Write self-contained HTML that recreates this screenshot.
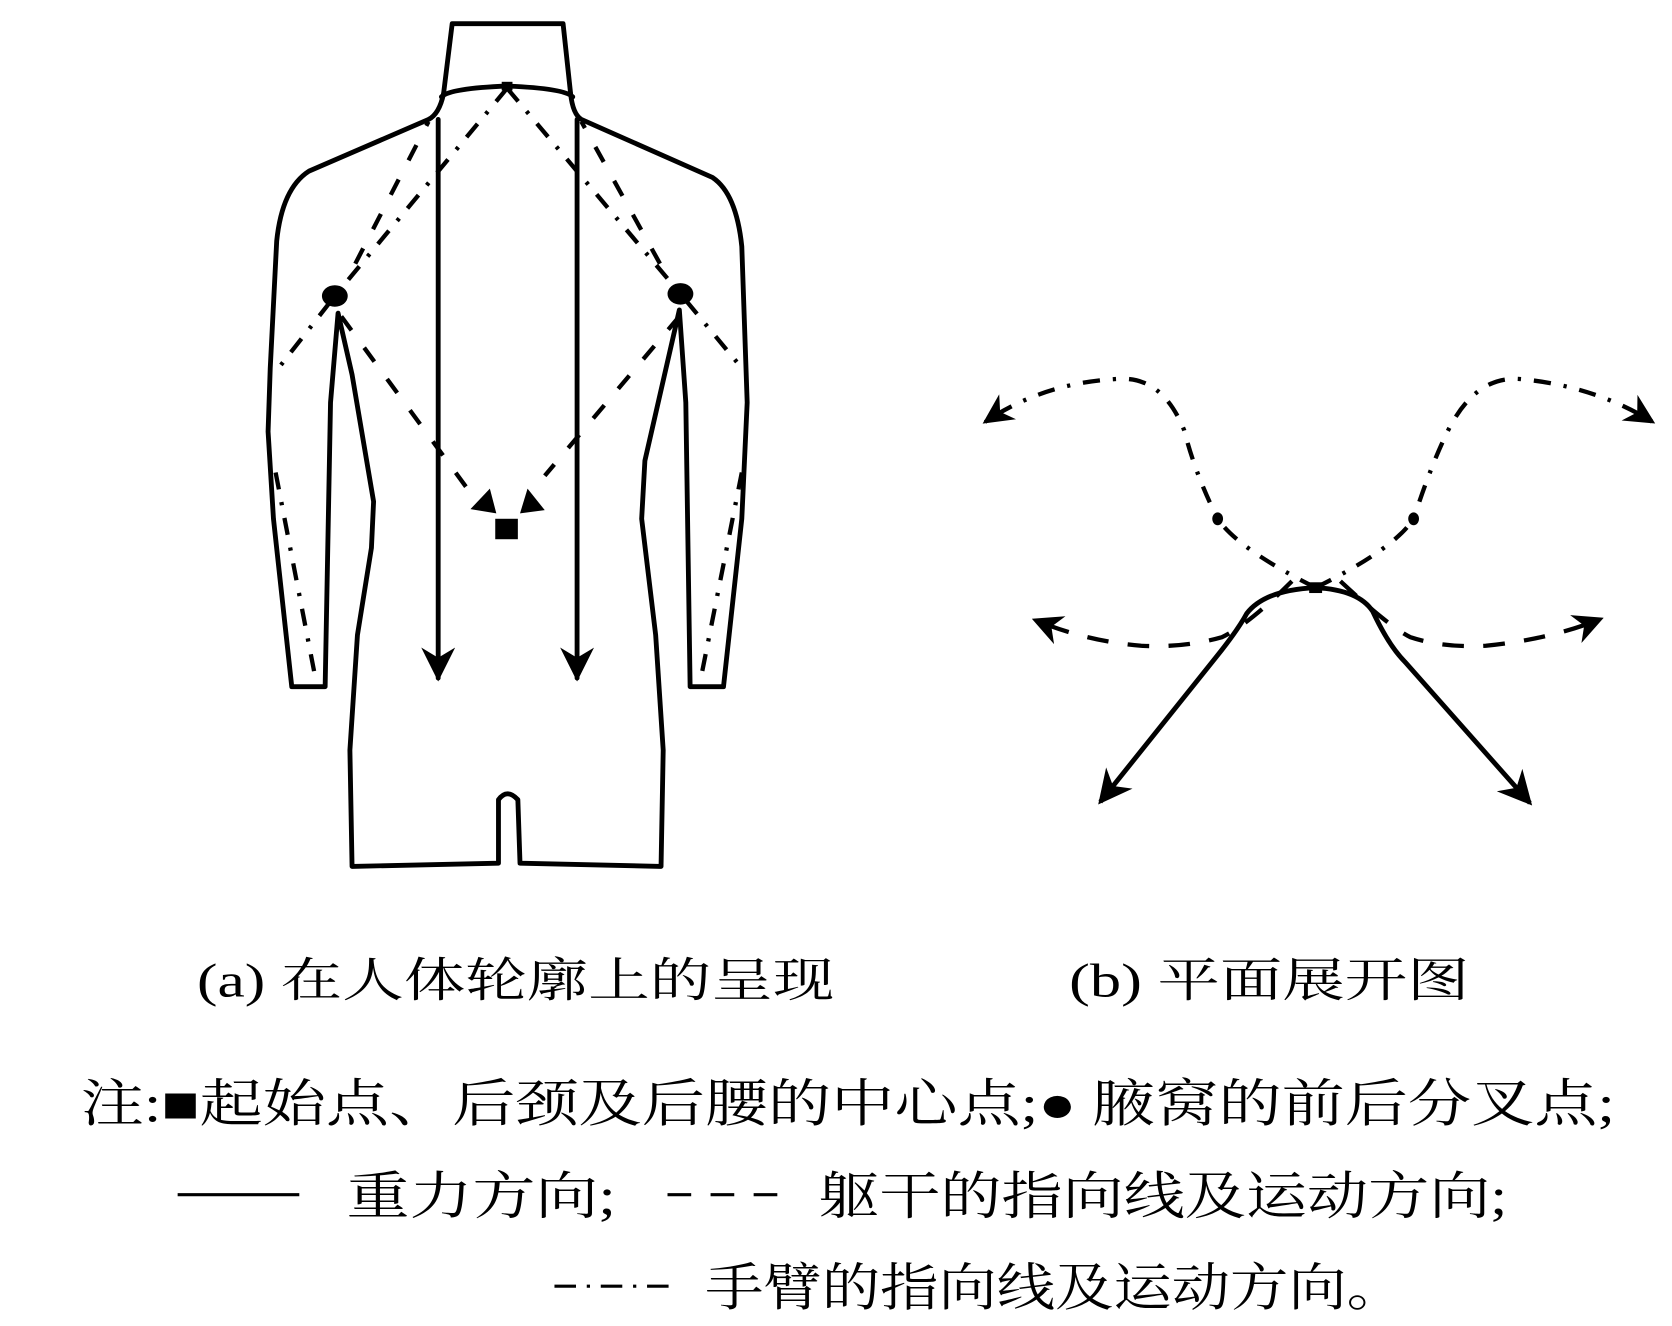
<!DOCTYPE html>
<html><head><meta charset="utf-8"><style>html,body{margin:0;padding:0;background:#fff}svg{display:block}</style></head><body>
<svg width="1672" height="1326" viewBox="0 0 1553 1232" preserveAspectRatio="none" xmlns="http://www.w3.org/2000/svg">
<defs>
<marker id="ar" viewBox="0 0 20 20" refX="18" refY="10" markerWidth="7" markerHeight="7" orient="auto" markerUnits="strokeWidth"><path d="M0,0 L20,10 L0,20 L6,10 Z" fill="#000"/></marker>
</defs>
<g fill="none" stroke="#000" stroke-width="4.5" stroke-linejoin="round" stroke-linecap="round">
<path d="M412,87 L420,22 L523,22 L530,87"/>
<path d="M410,90 Q418,82 471,80 Q524,82 532,90"/>
<path d="M412,87 Q408,106 398,111 L287,159 Q262,175 257,224 L251,342 L249,401 L254,482 L271,638 L302,638 L307,374 L314,291 L327,348 L347,466 L345,509 L332,590 L325,697 L327,805 L463,802 L463,743 Q471,732 481,743 L483,802 L614,805 L616,697 L609,590 L596,482 L599,428 L631,288 L637,374 L641,638 L672,638 L689,482 L694,374 L689,229 Q684,180 662,165 L540,111 Q532,106 530,87"/>
<path d="M407,111 L407,630" marker-end="url(#ar)"/>
<path d="M536,111 L536,630" marker-end="url(#ar)"/>
</g>
<g fill="none" stroke="#000" stroke-width="4" stroke-dasharray="16,20">
<path d="M317,294 L437,458"/>
<path d="M631,294 L506,442"/>
<path d="M330,245 L398,113"/>
<path d="M613,245 L540,113"/>
</g>
<g fill="none" stroke="#000" stroke-width="4" stroke-dasharray="16,12,3,12">
<path d="M471,82 L311,275 L254,348"/>
<path d="M471,82 L632,273 L689,342"/>
<path d="M256,439 L292,625"/>
<path d="M689,439 L652,625"/>
</g>
<path d="M455,454 L437,473 L461,477 Z" fill="#000"/>
<path d="M490,454 L506,474 L483,477 Z" fill="#000"/>
<rect x="460" y="482" width="21" height="19" fill="#000"/>
<rect x="466" y="76" width="10" height="8" fill="#000"/>
<ellipse cx="311" cy="275" rx="12" ry="10" fill="#000"/>
<ellipse cx="632" cy="273" rx="12" ry="10" fill="#000"/>

<g fill="none" stroke="#000" stroke-width="4">
<path d="M1222,546 Q1150,510 1131,482 Q1110,440 1100,400 Q1080,350 1040,352 Q970,355 915,392" stroke-dasharray="16,12,3,12" marker-end="url(#ar)"/>
<path d="M1222,546 Q1295,510 1313,482 Q1330,430 1345,400 Q1370,350 1410,352 Q1480,358 1535,392" stroke-dasharray="16,12,3,12" marker-end="url(#ar)"/>
<path d="M1200,540 Q1160,580 1135,592 Q1100,602 1060,600 Q1010,596 961,576" stroke-dasharray="20,18" marker-end="url(#ar)"/>
<path d="M1245,540 Q1290,582 1310,592 Q1340,602 1380,600 Q1440,594 1487,575" stroke-dasharray="20,18" marker-end="url(#ar)"/>
<path d="M1222,546 Q1175,548 1158,570 Q1150,585 1130,610 L1022,745" stroke-width="4.5" marker-end="url(#ar)"/>
<path d="M1222,546 Q1262,548 1275,568 Q1290,600 1305,615 L1421,746" stroke-width="4.5" marker-end="url(#ar)"/>
</g>
<ellipse cx="1131" cy="482" rx="5" ry="6" fill="#000"/>
<ellipse cx="1313" cy="482" rx="5" ry="6" fill="#000"/>
<rect x="1216" y="541" width="12" height="10" fill="#000"/>

<g font-family="'Liberation Serif','Noto Serif CJK SC',serif" fill="#000">
<text x="183" y="926" font-size="44" textLength="592" lengthAdjust="spacingAndGlyphs">(a)  在人体轮廓上的呈现</text>
<text x="993" y="926" font-size="44" textLength="372" lengthAdjust="spacingAndGlyphs">(b)  平面展开图</text>
<text x="75" y="1042" font-size="48" textLength="1425" lengthAdjust="spacingAndGlyphs">注:■起始点、后颈及后腰的中心点;● 腋窝的前后分叉点;</text>
<text x="322" y="1128" font-size="48" textLength="250" lengthAdjust="spacingAndGlyphs">重力方向;</text>
<text x="760" y="1128" font-size="48" textLength="640" lengthAdjust="spacingAndGlyphs">躯干的指向线及运动方向;</text>
<text x="655" y="1213" font-size="48" textLength="650" lengthAdjust="spacingAndGlyphs">手臂的指向线及运动方向。</text>
</g>
<g stroke="#000" stroke-width="3" fill="none">
<path d="M165,1110 L278,1110"/>
<path d="M620,1110 L735,1110" stroke-dasharray="22,18"/>
<path d="M515,1195 L625,1195" stroke-dasharray="20,10,3,10"/>
</g>
</svg>
</body></html>
